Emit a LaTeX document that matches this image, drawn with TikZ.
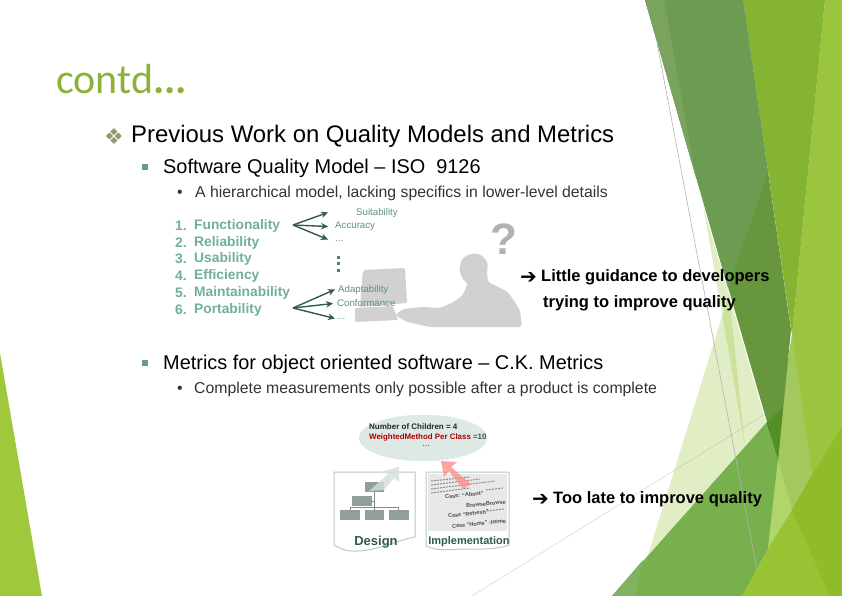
\documentclass[tikz,border=0pt]{standalone}
\usepackage{fontspec}
\setmainfont{Liberation Sans}
\newfontfamily\titlefont{Carlito}
\newfontfamily\symfont{DejaVu Sans}
\usetikzlibrary{arrows.meta, calc, shapes.geometric}
\definecolor{colorLime}{HTML}{9BC53F}
\definecolor{colorBand}{HTML}{67963F}
\definecolor{colorBandLight}{HTML}{6E9B52}
\definecolor{colorBandPale}{HTML}{7AA35F}
\definecolor{colorBandDeep}{HTML}{528F26}
\definecolor{colorMoss}{HTML}{85B332}
\definecolor{colorLeaf}{HTML}{78B04E}
\definecolor{colorLeafPale}{HTML}{80B262}
\definecolor{colorGlass}{HTML}{A3C95E}
\definecolor{colorGlassPale}{HTML}{B0D56A}
\definecolor{colorFront}{HTML}{98C433}
\definecolor{colorFrontDeep}{HTML}{8FBC28}
\definecolor{colorTeal}{HTML}{6FAF9C}
\definecolor{colorPine}{HTML}{2F5A4C}
\definecolor{colorSmall}{HTML}{5F8F80}
\definecolor{colorEdge}{HTML}{B5CCC3}
\definecolor{colorBox}{HTML}{7E8E86}
\definecolor{colorMark}{HTML}{8F9A70}
\newcommand{\fsize}[1]{\fontsize{#1}{#1}\selectfont}
\tikzset{
    txt/.style={anchor=west, inner sep=0pt, text=black, yshift=-1.5pt},
    lead/.style={txt, font=\fsize{23.9}},
    sub/.style={txt, font=\fsize{19.9}},
    subsub/.style={txt, font=\fsize{15.8}, text=black!80},
    note/.style={txt, font=\fsize{16.5}\bfseries},
    goal/.style={txt, font=\fsize{13.8}\bfseries, text=colorTeal},
    tiny/.style={txt, font=\fsize{9.7}, text=colorSmall},
    tip/.style={txt, font=\symfont\fsize{20}\bfseries},
    sq/.style={fill=colorTeal!90!black, minimum size=5.5pt, inner sep=0pt},
    fan/.style={draw=colorPine, line width=1.4pt, -{Stealth[length=7pt,width=6.5pt]}},
    doc/.style={draw=colorEdge, line width=1pt, fill=white},
    orgbox/.style={fill=colorBox!85!white, minimum width=20pt, minimum height=10pt, inner sep=0pt},
    code/.style={anchor=west, inner sep=0pt, rotate=6, font=\fsize{5.5}\bfseries, text=black!70},
    codefine/.style={line width=1pt, draw=black!45, dash pattern=on 2pt off 1pt},
    wash/.style={fill=#1, opacity=.3}
}
\begin{document}
\begin{tikzpicture}[x=1pt, y=-1pt]
    \useasboundingbox (0,0) rectangle (842,596);
    % Left corner
    \fill[colorLime!95!yellow] (0,353) -- (42,596) -- (0,596) -- cycle;
    % Pale facets and thin lines
    \draw[black!15, line width=.6pt] (472,596) -- (783,403);
    \fill[wash=colorLime] (729,294) -- (648,555) -- (745,446) -- cycle;
    \fill[wash=colorLime] (703,205) -- (766,423) -- (745,446) -- cycle;
    % Top bands
    \fill[colorLime] (825,0) -- (842,0) -- (842,596) -- (742,596) -- (778,460) -- (792,335) -- cycle;
    \fill[colorMoss] (743,0) -- (825,0) -- (792,335) -- cycle;
    \fill[colorGlass] (792,335) -- (780,407) -- (775,460) -- (792,510) -- (812,475) -- cycle;
    \fill[colorBand] (645,0) -- (743,0) -- (791,330) -- (778,460) -- cycle;
    \fill[colorBandLight] (645,0) -- (743,0) -- (768,173) -- (728,288) -- cycle;
    \fill[colorBandPale] (645,0) -- (664,0) -- (696,178) -- cycle;
    \fill[colorBandDeep] (766,423) -- (783,407) -- (778,460) -- cycle;
    % Lower facets
    \fill[colorLeaf] (612,596) -- (766,423) -- (778,460) -- (768,548) -- (742,596) -- cycle;
    \fill[colorLeafPale] (612,596) -- (643,560) -- (635,596) -- cycle;
    \fill[colorGlassPale] (778,460) -- (792,510) -- (768,548) -- cycle;
    \draw[black!30, line width=.6pt] (657,43) -- (757,570);
    \fill[colorFront] (842,427) -- (742,596) -- (842,596) -- cycle;
    \fill[colorFrontDeep] (792,510) -- (812,475) -- (842,427) -- (842,596) -- (830,596) -- cycle;
    % Title and headings
    \node[txt, font=\titlefont\fsize{42}, text=colorLime!90!black] (title) at (56,78) {contd\textbf{...}};
    \node[txt, font=\symfont\fsize{22}, text=colorMark] (mark) at (104,135) {❖};
    \node[lead] (head) at (131,135) {Previous Work on Quality Models and Metrics};
    \node[sq] (sqone) at (145,167) {};
    \node[sub] (iso) at (163,167) {Software Quality Model – ISO\ \ 9126};
    \node[subsub] (dotone) at (177,192) {•};
    \node[subsub] (hier) at (195,192) {A hierarchical model, lacking specifics in lower-level details};
    % Person at the screen
    \fill[black!18, rounded corners=2pt] (363,270) -- (405,268) -- (407,303) -- (360,307) -- cycle;
    \fill[black!18, rounded corners=1pt] (355,308) -- (393,306) -- (398,320) -- (355,322) -- cycle;
    \fill[black!18, rounded corners=3pt] (473,253) -- (462,258) -- (459,270) -- (463,280) -- (468,283) -- (463,295) -- (452,303) -- (440,308) -- (423,307) -- (403,309) -- (395,315) -- (407,322) -- (430,327) -- (522,327) -- (520,310) -- (508,292) -- (488,282) -- (487,273) -- (488,263) -- (482,255) -- cycle;
    \node[inner sep=0pt, font=\fsize{44}\bfseries, text=black!30] (ask) at (504,239) {?};
    % Quality characteristics
    \node[goal] (nf) at (175,224) {1.};
    \node[goal] (f) at (194,224) {Functionality};
    \node[goal] (nr) at (175,241) {2.};
    \node[goal] (r) at (194,241) {Reliability};
    \node[goal] (nu) at (175,257) {3.};
    \node[goal] (u) at (194,257) {Usability};
    \node[goal] (ne) at (175,274) {4.};
    \node[goal] (e) at (194,274) {Efficiency};
    \node[goal] (nm) at (175,291) {5.};
    \node[goal] (m) at (194,291) {Maintainability};
    \node[goal] (np) at (175,308) {6.};
    \node[goal] (p) at (194,308) {Portability};
    % Sub characteristics
    \node[tiny] (suit) at (356,211) {Suitability};
    \node[tiny] (acc) at (335,225) {Accuracy};
    \node[tiny] (dotsa) at (335,239) {...};
    \node[tiny] (adapt) at (338,288) {Adaptability};
    \node[tiny] (conf) at (337,302) {Conformance};
    \node[tiny] (dotsb) at (337,317) {...};
    \fill[colorPine!80] (336.5,255.5) rectangle (339.5,258.5);
    \fill[colorPine!80] (336.5,262) rectangle (339.5,265);
    \fill[colorPine!80] (336.5,269) rectangle (339.5,272);
    \coordinate (fanf) at (293,225);
    \coordinate (fanp) at (293,308);
    \draw[fan] (fanf) -- ($(suit.west)+(-28,0)$);
    \draw[fan] (fanf) -- ($(acc.west)+(-7,0)$);
    \draw[fan] (fanf) -- ($(dotsa.west)+(-7,-1)$);
    \draw[fan] (fanp) -- ($(adapt.west)+(-3,0)$);
    \draw[fan] (fanp) -- ($(conf.west)+(-4,0)$);
    \draw[fan] (fanp) -- ($(dotsb.west)+(-2,0)$);
    % Side notes
    \node[tip] (arrowa) at (520,276) {➔};
    \node[note] (little) at (541,276) {Little guidance to developers};
    \node[note] (trying) at (543,302) {trying to improve quality};
    % Metrics section
    \node[sq] (sqtwo) at (145,363) {};
    \node[sub] (oo) at (163,363) {Metrics for object oriented software – C.K. Metrics};
    \node[subsub] (dottwo) at (177,388) {•};
    \node[subsub] (meas) at (194,388) {Complete measurements only possible after a product is complete};
    % Balloon
    \node[draw=colorEdge!40, fill=colorEdge!45, ellipse, minimum width=128pt, minimum height=46pt, inner sep=0pt] (cloud) at (423,438) {};
    \node[txt, font=\fsize{8}\bfseries, text=black!85] (noc) at (369,425.5) {Number of Children = 4};
    \node[txt, font=\fsize{7.9}\bfseries, text=red!70!black] (wmc) at (369,436) {WeightedMethod Per Class \textcolor{black!70}{=10}};
    \node[inner sep=0pt, font=\fsize{9}, text=black!70] (more) at (426,446.5) {...};
    % Design sheet
    \draw[doc] (334,472) -- (415,472) -- (415,537) .. controls (397,540) and (375,552) .. (353,551) .. controls (345,551) and (340,548) .. (334,545) -- cycle;
    \node[orgbox, minimum width=19pt] (top) at (374.5,487) {};
    \node[orgbox] (mid) at (362,501) {};
    \node[orgbox] (lefta) at (350,515) {};
    \node[orgbox, minimum width=19pt] (midb) at (374.5,515) {};
    \node[orgbox] (righta) at (398.5,515) {};
    \draw[colorBox, line width=.5pt] (top.south) -- (midb.north);
    \draw[colorBox, line width=.5pt] (mid.east) -- (374.5,501);
    \draw[colorBox, line width=.5pt] (lefta.north) -- ++(0,-3) -| (righta.north);
    \fill[colorEdge!60!white, opacity=.8] (369,491) -- (384,490) -- (394,478) -- (399,482) -- (399,467) -- (383,471) -- (388,474) -- cycle;
    \node[inner sep=0pt, font=\fsize{13}\bfseries, text=colorPine] (design) at (376,542) {Design};
    % Implementation sheet
    \draw[doc] (426,472) -- (509,472) -- (509,545) .. controls (495,550) and (480,549) .. (467,549) .. controls (450,549) and (438,552) .. (426,546) -- cycle;
    \fill[black!9] (428,474) rectangle (507,531);
    \draw[codefine] (431,481) -- (470,477);
    \draw[codefine] (431,485) -- (480,479);
    \draw[codefine] (431,489) -- (495,481);
    \draw[codefine] (431,493) -- (470,488);
    \draw[codefine] (486,490) -- (503,488);
    \draw[codefine] (487,511) -- (504,509);
    \node[code] (casea) at (445,497) {Case: “About”};
    \node[code] (browsea) at (466,506) {BrowseBrowse};
    \node[code] (caseb) at (448,516) {Case “Refresh”};
    \node[code] (casec) at (452,526.5) {Case “Home” :Home};
    \fill[red!45, opacity=.8] (471,484) -- (451,467) -- (457,462) -- (441,461) -- (444,477) -- (449,471) -- (463,489) -- cycle;
    \node[inner sep=0pt, font=\fsize{11}\bfseries, text=colorPine] (impl) at (469,542) {Implementation};
    % Too late note
    \node[tip] (arrowb) at (532,498) {➔};
    \node[note] (late) at (553,498) {Too late to improve quality};
\end{tikzpicture}
\end{document}
